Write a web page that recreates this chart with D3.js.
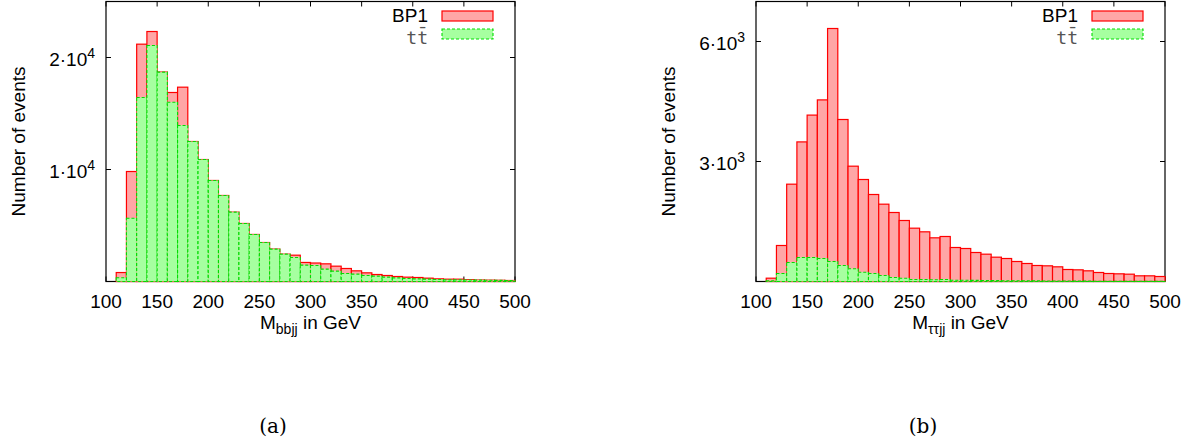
<!DOCTYPE html>
<html><head><meta charset="utf-8">
<script src="https://cdn.jsdelivr.net/npm/d3@7"></script>
<style>
html,body{margin:0;padding:0;background:#fff;}
svg{display:block;}
</style></head>
<body>
<script>
// ---- data ----
const binEdges = [100,110,120,130,140,150,160,170,180,190,200,210,220,230,240,250,260,270,280,290,
                  300,310,320,330,340,350,360,370,380,390,400,410,420,430,440,450,460,470,480,490];
const binWidth = 10;
const xTicks = [100,150,200,250,300,350,400,450,500];

const bbjjBP1 = [0,800,9820,21190,22320,18700,16875,17350,12500,10890,9020,7680,6190,5180,4200,3480,2890,2440,2350,1700,
                 1650,1577,1369,1161,952,774,625,536,446,387,357,298,238,208,208,160,130,120,110,90];
const bbjjTT  = [0,330,5650,16430,21070,18690,16010,13930,12500,10890,9020,7680,6190,5180,4200,3480,2890,2440,2140,1460,
                 1430,1101,923,714,655,536,476,387,327,268,238,208,179,149,149,140,120,110,100,80];

const ttjjBP1 = [0,83,900,2433,3490,4160,4540,6325,4050,2883,2550,2175,1933,1725,1525,1333,1242,1092,1125,850,
                 825,725,683,608,575,500,450,400,392,367,300,292,267,225,200,192,183,142,142,125];
const ttjjTT  = [0,17,200,475,600,600,575,500,400,317,233,200,150,100,83,50,50,42,50,33,
                 30,28,25,22,20,18,16,15,13,12,11,10,9,8,8,7,6,6,5,5];

const yTicksA = [{v:10000, m:"1", e:"4"},{v:20000, m:"2", e:"4"}];
const yTicksB = [{v:3000, m:"3", e:"3"},{v:6000, m:"6", e:"3"}];

const seriesNames = ["BP1","tt\u0304"];
const captions = ["(a)","(b)"];

// ---- drawing ----
const W = 1197, H = 445;
const SANS = "'Liberation Sans', Arial, Helvetica, sans-serif";
const FS = 19;
const svg = d3.select("body").append("svg").attr("width",W).attr("height",H)
  .attr("font-family",SANS);

const redFill="#ffa6a6", redStroke="#ff0000", greenFill="#a6ffa0", greenStroke="#00dd00";

function panel(opt){
  const g = svg.append("g");
  const x = d3.scaleLinear().domain([100,500]).range([opt.x0, opt.x0+409]);
  const y = d3.scaleLinear().domain([0,opt.ymax]).range([281.5,1.5]);

  g.append("rect").attr("x",x(100)).attr("y",y(opt.ymax)).attr("width",x(500)-x(100)).attr("height",y(0)-y(opt.ymax))
    .attr("fill","none").attr("stroke","#000").attr("stroke-width",1.2);

  const tl=5;
  xTicks.forEach(t=>{
    g.append("line").attr("x1",x(t)).attr("x2",x(t)).attr("y1",y(opt.ymax)).attr("y2",y(opt.ymax)+tl).attr("stroke","#000");
    g.append("line").attr("x1",x(t)).attr("x2",x(t)).attr("y1",y(0)).attr("y2",y(0)-tl).attr("stroke","#000");
  });
  opt.yTicks.forEach(t=>{
    g.append("line").attr("x1",x(100)).attr("x2",x(100)+tl).attr("y1",y(t.v)).attr("y2",y(t.v)).attr("stroke","#000");
    g.append("line").attr("x1",x(500)).attr("x2",x(500)-tl).attr("y1",y(t.v)).attr("y2",y(t.v)).attr("stroke","#000");
  });

  g.append("g").selectAll("rect").data(binEdges.map((b,i)=>({b,v:opt.red[i]}))).join("rect")
    .attr("x",d=>x(d.b)).attr("width",d=>x(d.b+binWidth)-x(d.b))
    .attr("y",d=>y(d.v)).attr("height",d=>y(0)-y(d.v))
    .attr("fill",redFill).attr("stroke",redStroke).attr("stroke-width",1.2);
  g.append("g").selectAll("rect").data(binEdges.map((b,i)=>({b,v:opt.green[i]}))).join("rect")
    .attr("x",d=>x(d.b)).attr("width",d=>x(d.b+binWidth)-x(d.b))
    .attr("y",d=>y(d.v)).attr("height",d=>y(0)-y(d.v))
    .attr("fill",greenFill).attr("stroke",greenStroke).attr("stroke-width",1.1).attr("stroke-dasharray","3,2");

  g.append("g").selectAll("text").data(xTicks).join("text")
    .attr("x",d=>x(d)).attr("y",307.5).attr("text-anchor","middle").attr("font-size",FS).attr("fill","#000").text(d=>d);

  opt.yTicks.forEach(t=>{
    const tx = g.append("text").attr("x",x(100)-11).attr("y",y(t.v)+8).attr("text-anchor","end").attr("font-size",FS).attr("fill","#000");
    tx.append("tspan").text(t.m+"\u00b710");
    tx.append("tspan").attr("dy",-8).attr("font-size",14).text(t.e);
  });

  const xl = g.append("text").attr("x",x(300)).attr("y",328.5).attr("text-anchor","middle").attr("font-size",FS).attr("fill","#000");
  xl.append("tspan").text("M");
  xl.append("tspan").attr("dy",5).attr("font-size",14).text(opt.sub);
  xl.append("tspan").attr("dy",-5).text(" in GeV");

  g.append("text").attr("transform",`translate(${opt.x0-81},${y(opt.ymax/2)}) rotate(-90)`)
    .attr("text-anchor","middle").attr("font-size",FS).attr("fill","#000").text("Number of events");

  const bx = x(500)-22-51;
  g.append("text").attr("x",bx-14).attr("y",22).attr("text-anchor","end").attr("font-size",FS).attr("fill","#000").text(seriesNames[0]);
  g.append("rect").attr("x",bx).attr("y",11).attr("width",51).attr("height",10).attr("fill",redFill).attr("stroke",redStroke).attr("stroke-width",1.2);
  g.append("text").attr("x",bx-14).attr("y",44).attr("text-anchor","end").attr("font-size",18)
    .attr("font-family","'DejaVu Sans Mono','Liberation Mono',monospace").attr("fill","#555").text(seriesNames[1]);
  g.append("rect").attr("x",bx).attr("y",29).attr("width",51).attr("height",10).attr("fill",greenFill).attr("stroke",greenStroke).attr("stroke-width",1.1).attr("stroke-dasharray","3,2");

  svg.append("text").attr("x",opt.x0+167).attr("y",433).attr("text-anchor","middle").attr("font-size",20)
    .attr("font-family","'DejaVu Serif','Liberation Serif',serif").attr("fill","#000").text(opt.caption);
}

panel({x0:106, ymax:25000, red:bbjjBP1, green:bbjjTT, yTicks:yTicksA, sub:"bbjj", caption:captions[0]});
panel({x0:756, ymax:7000,  red:ttjjBP1, green:ttjjTT, yTicks:yTicksB, sub:"\u03c4\u03c4jj", caption:captions[1]});
</script>
</body></html>
